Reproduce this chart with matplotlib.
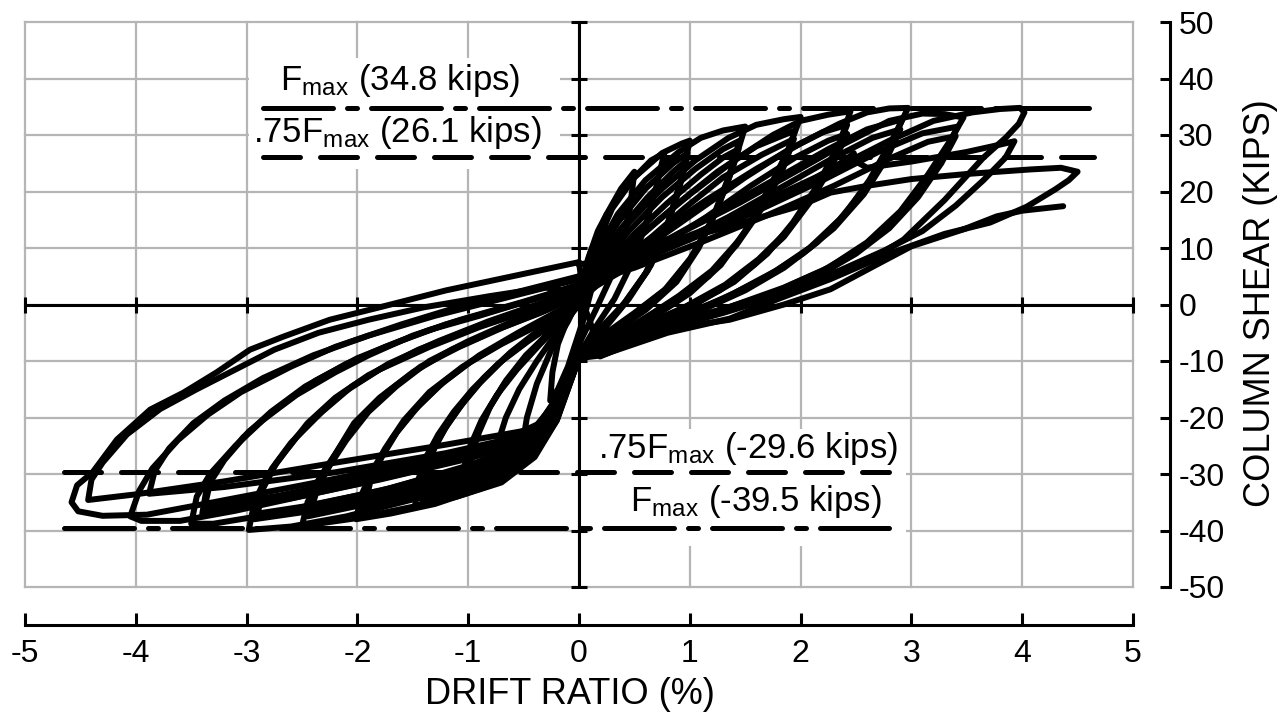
import matplotlib.pyplot as plt
from matplotlib.patches import Rectangle
from matplotlib.ticker import FixedLocator

plt.rcParams['font.family'] = ['Liberation Sans', 'DejaVu Sans']
plt.rcParams['mathtext.fontset'] = 'custom'
plt.rcParams['mathtext.rm'] = 'Liberation Sans'
plt.rcParams['mathtext.it'] = 'Liberation Sans:italic'
plt.rcParams['axes.unicode_minus'] = False

# Hysteresis loops: (drift %, shear kips), one list per cycle
loop_025 = [(0, 1), (0.08, 8), (0.17, 13), (0.25, 16), (0.21, 10), (0.13, 4), (0.05, -2), (0, -5),
            (-0.1, -11), (-0.19, -15), (-0.26, -17), (-0.24, -12), (-0.19, -7), (-0.11, -3), (0, 1)]
loop_050 = [(0, 1), (0.1, 9), (0.25, 16), (0.38, 20.5), (0.5, 23.5), (0.46, 17), (0.38, 10.5), (0.28, 4.5),
            (0.15, -1), (0, -7), (-0.15, -15), (-0.3, -20.5), (-0.52, -26), (-0.47, -20), (-0.38, -14),
            (-0.25, -8), (-0.1, -3), (0, 1)]
loop_075 = [(0, 0), (0.12, 9.5), (0.3, 17.5), (0.5, 22.5), (0.65, 25.5), (0.77, 26.8), (0.7, 21), (0.6, 14),
            (0.47, 7), (0.32, 1), (0.15, -4), (0, -9), (-0.2, -18.5), (-0.4, -24), (-0.6, -28), (-0.78, -30),
            (-0.74, -25), (-0.66, -20), (-0.54, -15), (-0.38, -10), (-0.2, -5), (0, 0)]
loop_100a = [(0, 0), (0.12, 9), (0.3, 17), (0.5, 22.5), (0.75, 26.8), (0.93, 28.5), (1.0, 29), (0.92, 22),
             (0.8, 14), (0.65, 7), (0.45, 1), (0.22, -4.5), (0, -9.5), (-0.2, -20.5), (-0.4, -26.5), (-0.7, -31),
             (-1.07, -33.3), (-1.04, -29), (-0.98, -25), (-0.88, -20.5), (-0.74, -16), (-0.56, -11.5),
             (-0.35, -7), (-0.15, -3), (0, 0)]
loop_100b = [(0, 0), (0.15, 8), (0.35, 14.5), (0.6, 20.5), (0.85, 25), (0.98, 26.8), (0.9, 20.5), (0.78, 13),
             (0.62, 6), (0.42, 0.5), (0.2, -4.5), (0, -9.5), (-0.2, -20), (-0.45, -26.5), (-0.75, -30),
             (-1.02, -31.8), (-0.99, -27.5), (-0.93, -23.5), (-0.83, -19), (-0.69, -14.5), (-0.51, -10),
             (-0.3, -5.5), (-0.12, -2), (0, 0)]
loop_100c = [(0, 0), (0.17, 7.5), (0.38, 13.5), (0.62, 19), (0.85, 23.5), (0.97, 25.5), (0.89, 19.5),
             (0.76, 12), (0.6, 5.5), (0.4, 0), (0.18, -4.5), (0, -9), (-0.2, -19.5), (-0.45, -25.5),
             (-0.75, -29), (-1.0, -30.8), (-0.97, -26.5), (-0.9, -22.5), (-0.8, -18), (-0.66, -13.5),
             (-0.48, -9), (-0.27, -5), (-0.1, -1.5), (0, 0)]
loop_150a = [(0, 0), (0.15, 9), (0.35, 16), (0.6, 22), (0.9, 27), (1.1, 29.5), (1.3, 30.8), (1.5, 31.5),
             (1.4, 25), (1.25, 17), (1.08, 10), (0.88, 4), (0.6, -1), (0.3, -5), (0, -9.5), (-0.2, -20.5),
             (-0.4, -27), (-0.7, -31.5), (-1.1, -34), (-1.48, -35.8), (-1.45, -31), (-1.38, -27), (-1.27, -23),
             (-1.13, -19), (-0.96, -15), (-0.73, -10.5), (-0.46, -6.5), (-0.2, -3), (0, 0)]
loop_150b = [(0, 0), (0.2, 7), (0.45, 13), (0.75, 19), (1.05, 24), (1.3, 27.5), (1.45, 29), (1.35, 22.5),
             (1.2, 15), (1.02, 8.5), (0.8, 3), (0.5, -1.5), (0.25, -5), (0, -9.5), (-0.2, -20), (-0.45, -27),
             (-0.8, -31), (-1.42, -34.5), (-1.39, -30), (-1.32, -26), (-1.21, -22), (-1.07, -18), (-0.9, -14),
             (-0.67, -9.5), (-0.4, -5.5), (-0.17, -2.5), (0, 0)]
loop_150c = [(0, 0), (0.22, 6.5), (0.5, 12.5), (0.8, 18), (1.1, 23), (1.3, 26), (1.44, 27.5), (1.34, 21.5),
             (1.18, 14), (1.0, 8), (0.77, 2.5), (0.48, -2), (0.22, -5.5), (0, -9.5), (-0.2, -19.5),
             (-0.45, -26.5), (-0.85, -30.5), (-1.4, -33.5), (-1.37, -29), (-1.3, -25), (-1.18, -21),
             (-1.03, -17), (-0.86, -13), (-0.62, -8.5), (-0.36, -4.5), (-0.14, -1.5), (0, 0)]
loop_200a = [(0, 0.5), (0.2, 8), (0.45, 14.5), (0.75, 20.5), (1.05, 25.5), (1.35, 29.5), (1.6, 31.8),
             (1.85, 32.8), (2.0, 33.2), (1.88, 27), (1.7, 20), (1.5, 13), (1.28, 7), (1.0, 2), (0.65, -2.5),
             (0.3, -6), (0, -9.5), (-0.2, -20), (-0.4, -26.5), (-0.8, -32), (-1.3, -35.3), (-1.7, -37),
             (-2.01, -38), (-1.97, -34), (-1.88, -30), (-1.75, -25.5), (-1.58, -20.5), (-1.35, -15.5),
             (-1.05, -11), (-0.7, -7), (-0.35, -3.5), (0, 0.5)]
loop_200b = [(0, 0.5), (0.25, 6), (0.55, 12), (0.9, 18), (1.25, 23.5), (1.6, 28), (1.95, 30.8), (1.85, 25),
             (1.67, 18), (1.45, 11.5), (1.2, 6), (0.9, 1.5), (0.55, -3), (0.25, -6.5), (0, -9.5), (-0.2, -19.5),
             (-0.45, -26.5), (-0.9, -31), (-1.4, -34), (-1.95, -36.3), (-1.91, -32), (-1.82, -28),
             (-1.68, -23.5), (-1.5, -19), (-1.27, -14.5), (-0.97, -10), (-0.62, -6), (-0.28, -2.5), (0, 0.5)]
loop_200c = [(0, 0.5), (0.28, 5.5), (0.6, 11), (0.95, 17), (1.3, 22.5), (1.65, 26.5), (1.94, 29.3),
             (1.83, 23.5), (1.65, 17), (1.42, 10.5), (1.17, 5), (0.85, 0.5), (0.5, -3.5), (0.22, -7), (0, -9.5),
             (-0.2, -19), (-0.45, -26), (-0.95, -30.5), (-1.45, -33.3), (-1.93, -35.5), (-1.88, -31),
             (-1.78, -27), (-1.64, -22.5), (-1.45, -18), (-1.21, -13.5), (-0.9, -9), (-0.55, -5), (-0.22, -1.5),
             (0, 0.5)]
loop_250a = [(0, 1.5), (0.25, 7), (0.6, 13), (1.0, 19.5), (1.4, 25.5), (1.75, 30), (2.0, 32.5), (2.25, 33.6),
             (2.45, 34.2), (2.35, 28.5), (2.15, 21), (1.93, 14.5), (1.7, 9), (1.4, 4), (1.0, -0.5), (0.6, -4),
             (0.25, -7), (0, -9.5), (-0.2, -19.5), (-0.45, -27), (-0.9, -32), (-1.5, -35.8), (-2.0, -37.8),
             (-2.5, -39.2), (-2.45, -35), (-2.35, -31), (-2.2, -26.5), (-2.03, -21), (-1.8, -16.5), (-1.5, -12),
             (-1.15, -8), (-0.75, -4.5), (-0.35, -1.5), (0, 1.5)]
loop_250b = [(0, 1.5), (0.3, 6), (0.7, 11.5), (1.1, 17), (1.5, 22.5), (1.9, 27.5), (2.2, 30.5), (2.42, 31.8),
             (2.3, 26), (2.1, 19), (1.88, 13), (1.62, 8), (1.32, 3.5), (0.95, -0.5), (0.55, -4), (0.25, -7),
             (0, -9.5), (-0.2, -19), (-0.45, -26), (-1.0, -30.5), (-1.6, -34), (-2.45, -37.5), (-2.4, -33.5),
             (-2.3, -29.5), (-2.15, -25), (-1.97, -20), (-1.73, -15.5), (-1.43, -11), (-1.08, -7.5), (-0.68, -4),
             (-0.3, -1), (0, 1.5)]
loop_250c = [(0, 1.5), (0.35, 5.5), (0.75, 10.5), (1.15, 15.5), (1.55, 21), (1.95, 26), (2.25, 29),
             (2.42, 30.2), (2.28, 24.5), (2.08, 18), (1.85, 12), (1.58, 7), (1.27, 2.5), (0.9, -1), (0.5, -4.5),
             (0.2, -7.5), (0, -9.5), (-0.2, -18.5), (-0.45, -25.5), (-1.05, -30), (-1.7, -33.5), (-2.42, -36.5),
             (-2.36, -32.5), (-2.25, -28.5), (-2.1, -24), (-1.9, -19), (-1.65, -14.5), (-1.35, -10), (-1.0, -6.5),
             (-0.6, -3), (-0.25, 0), (0, 1.5)]
loop_300a = [(0, 2.5), (0.3, 7), (0.7, 12.5), (1.15, 18.5), (1.6, 24), (2.0, 28.5), (2.35, 32), (2.6, 34),
             (2.8, 34.7), (2.97, 34.8), (2.85, 30), (2.62, 22), (2.4, 16), (2.15, 11), (1.85, 6.5), (1.5, 2.5),
             (1.05, -1.5), (0.6, -5), (0.25, -7.5), (0, -9.5), (-0.2, -19), (-0.45, -26), (-0.9, -30.5),
             (-1.5, -34.5), (-2.1, -37.5), (-2.6, -39.3), (-2.98, -39.9), (-2.93, -35), (-2.82, -30.5),
             (-2.65, -26), (-2.45, -21), (-2.2, -16.5), (-1.9, -12.5), (-1.45, -8), (-1.0, -4.5), (-0.6, -2),
             (-0.25, 0.5), (0, 2.5)]
loop_300b = [(0, 2.5), (0.35, 6.5), (0.8, 11.5), (1.3, 17), (1.8, 22.5), (2.25, 27.5), (2.6, 31), (2.92, 32.8),
             (2.8, 27.5), (2.6, 21), (2.35, 15), (2.08, 10), (1.78, 6), (1.4, 2), (0.95, -2), (0.5, -5.5),
             (0, -9.5), (-0.2, -18.5), (-0.45, -25), (-1.0, -29.5), (-1.7, -33.5), (-2.4, -36.5), (-2.93, -38),
             (-2.88, -33.5), (-2.77, -29), (-2.6, -24.5), (-2.38, -20), (-2.12, -15.5), (-1.8, -11.5),
             (-1.35, -7.5), (-0.9, -4), (-0.45, -1), (0, 2.5)]
loop_300c = [(0, 2.5), (0.4, 6), (0.85, 10.5), (1.35, 15.5), (1.85, 21), (2.3, 26), (2.65, 29.5), (2.9, 31),
             (2.78, 26), (2.57, 19.5), (2.3, 13.5), (2.02, 9), (1.7, 5), (1.3, 1), (0.85, -2.5), (0.4, -6),
             (0, -9.5), (-0.2, -18), (-0.45, -24.5), (-1.05, -29), (-1.8, -33), (-2.5, -35.8), (-2.9, -37),
             (-2.85, -32.5), (-2.73, -28), (-2.55, -23.5), (-2.32, -19), (-2.05, -14.5), (-1.72, -10.5),
             (-1.27, -6.5), (-0.82, -3), (-0.38, 0), (0, 2.5)]
loop_350a = [(0, 3.5), (0.4, 7.5), (0.9, 12.5), (1.45, 18), (1.95, 23.5), (2.4, 28.5), (2.8, 32.5), (3.1, 33.8),
             (3.3, 33.7), (3.47, 33.1), (3.35, 29), (3.15, 23), (2.9, 16.5), (2.6, 11), (2.25, 6.5), (1.85, 3),
             (1.35, -0.5), (0.85, -3.5), (0.4, -6.5), (0, -9.5), (-0.2, -18), (-0.45, -24.5), (-1.0, -28.5),
             (-1.7, -32.5), (-2.4, -35.5), (-2.9, -37.5), (-3.3, -38.8), (-3.5, -38.8), (-3.45, -34),
             (-3.33, -30), (-3.1, -25), (-2.85, -20.4), (-2.55, -16), (-2.2, -12), (-1.9, -9), (-1.5, -5.5),
             (-1.07, -2.7), (-0.5, 0.5), (0, 3.5)]
loop_350b = [(0, 3.5), (0.45, 7), (1.0, 11.5), (1.6, 16.5), (2.2, 22), (2.7, 27), (3.1, 30.3), (3.42, 31.5),
             (3.3, 27), (3.1, 21), (2.85, 15), (2.55, 10), (2.2, 6), (1.8, 2.5), (1.3, -1), (0.8, -4), (0.35, -7),
             (0, -9.5), (-0.2, -17.5), (-0.45, -24), (-1.0, -27.3), (-1.8, -31), (-2.6, -34.3), (-3.4, -37),
             (-3.36, -32.5), (-3.25, -28.5), (-3.03, -23.5), (-2.78, -19), (-2.47, -14.5), (-2.1, -10.5),
             (-1.75, -7.5), (-1.35, -4.5), (-0.9, -2), (-0.4, 1), (0, 3.5)]
loop_350c = [(0, 3.5), (0.5, 6.5), (1.1, 11), (1.7, 15.8), (2.3, 21), (2.8, 25.8), (3.15, 28.8), (3.4, 29.8),
             (3.27, 25), (3.06, 19), (2.8, 13.5), (2.5, 9), (2.15, 5), (1.75, 1.5), (1.25, -1.5), (0.75, -4.5),
             (0.3, -7.5), (0, -9.5), (-0.2, -17), (-0.45, -23.5), (-1.1, -27), (-1.9, -30.5), (-2.7, -33.8),
             (-3.38, -36), (-3.33, -31.5), (-3.2, -27.5), (-2.98, -22.5), (-2.7, -18), (-2.38, -13.5),
             (-2.0, -9.5), (-1.62, -6.5), (-1.2, -3.5), (-0.75, -1), (-0.3, 1.5), (0, 3.5)]
loop_400a = [(0, 5), (0.5, 8.5), (1.1, 13), (1.7, 18.5), (2.3, 24), (2.8, 29), (3.2, 32.5), (3.55, 34),
             (3.8, 34.6), (3.98, 34.8), (4.02, 34), (3.97, 32), (3.85, 29.5), (3.65, 26), (3.3, 18.5),
             (2.93, 11.5), (2.6, 7.5), (2.25, 4.5), (1.8, 1.5), (1.3, -1.5), (0.75, -4.5), (0.3, -7.5), (0, -9.5),
             (-0.15, -16), (-0.35, -22), (-0.8, -26), (-1.6, -30), (-2.4, -33.5), (-3.1, -36.5), (-3.6, -38.3),
             (-3.95, -38.3), (-4.05, -37.5), (-3.97, -33), (-3.85, -29), (-3.62, -24), (-3.35, -19.5),
             (-3.05, -15.5), (-2.6, -11), (-2.2, -7.5), (-1.6, -3.5), (-1.1, -0.5), (-0.5, 2.5), (0, 5)]
loop_400b = [(0, 5), (0.6, 9), (1.2, 13.5), (1.7, 18), (2.1, 22), (2.4, 25.5), (2.48, 26.8), (2.5, 25.3),
             (2.6, 24.2), (3.0, 25.3), (3.5, 27), (3.8, 28.3), (3.93, 28.9), (3.85, 26), (3.65, 22), (3.4, 17.5),
             (3.1, 13), (2.75, 9.5), (2.35, 6), (1.9, 3), (1.35, -0.5), (0.8, -3.5), (0.35, -6.5), (0, -9),
             (-0.2, -17), (-0.45, -23), (-1.2, -26.3), (-2.2, -29.7), (-3.2, -32.3), (-3.88, -33.5),
             (-3.83, -29.5), (-3.7, -25.5), (-3.48, -21), (-3.2, -17), (-2.85, -13), (-2.4, -9), (-1.9, -5.5),
             (-1.3, -2), (-0.7, 1), (0, 4.5)]
loop_450a = [(0, 7), (0.6, 10), (1.3, 13.5), (2.0, 17.5), (2.27, 19.8), (2.6, 21), (3.0, 22.2), (3.5, 23.1),
             (4.07, 23.9), (4.35, 24.2), (4.5, 23.5), (4.42, 22), (4.3, 20.4), (4.04, 17.3), (3.71, 14.5),
             (3.3, 12.5), (2.8, 9), (2.27, 4.5), (1.8, 1), (1.36, -2.5), (0.8, -5), (0.2, -9), (0, -9.5),
             (-0.15, -15), (-0.35, -21), (-0.8, -25), (-1.6, -28.5), (-2.5, -32), (-3.3, -35), (-3.9, -37.2),
             (-4.3, -37.4), (-4.52, -36.6), (-4.58, -35), (-4.53, -32), (-4.39, -29.7), (-4.17, -23.9),
             (-3.87, -18.6), (-3.57, -15.6), (-3.27, -12), (-2.97, -8), (-2.67, -5.7), (-2.25, -2.7),
             (-1.8, -0.5), (-1.2, 2.5), (-0.6, 5), (0, 7.5)]
loop_450b = [(0, 7.5), (0.05, 0), (0, -9), (-0.15, -15), (-0.39, -22), (-1.2, -24.8), (-2.2, -28),
             (-3.2, -31.3), (-4.0, -33.6), (-4.43, -34.6), (-4.4, -31), (-4.3, -28), (-4.08, -23), (-3.78, -18.5),
             (-3.45, -15), (-3.1, -11.5), (-2.75, -8), (-2.35, -5), (-1.9, -2.7), (-1.4, -0.5), (-0.8, 1.5),
             (-0.3, 3), (0, 2), (0.1, -3), (0.19, -9.2), (0.78, -4.4), (1.36, -2.7), (1.85, 0), (2.27, 2.7),
             (2.72, 7.4), (3.0, 10.3), (3.47, 13.3), (3.77, 15.6), (4.0, 16.6), (4.37, 17.4)]

loops = [loop_025, loop_050, loop_075, loop_100a, loop_100b, loop_100c, loop_150a, loop_150b, loop_150c,
         loop_200a, loop_200b, loop_200c, loop_250a, loop_250b, loop_250c, loop_300a, loop_300b, loop_300c,
         loop_350a, loop_350b, loop_350c, loop_400a, loop_400b, loop_450a, loop_450b]

# Reference strength levels
ref_levels = [34.8, 26.1, -29.6, -39.5]
ref_spans = [(-2.85, 4.65), (-2.85, 4.65), (-4.65, 2.8), (-4.65, 2.8)]
ref_dashes = [(14, 2.8, 2, 2.8), (7.4, 4), (7.4, 4), (14, 2.8, 2, 2.8)]
ref_labels = [r'F$_{\mathrm{max}}$ (34.8 kips)', r'.75F$_{\mathrm{max}}$ (26.1 kips)',
              r'.75F$_{\mathrm{max}}$ (-29.6 kips)', r'F$_{\mathrm{max}}$ (-39.5 kips)']
label_pos = [(-2.70, 38.0), (-2.94, 28.7), (0.17, -27.1), (0.46, -36.6)]

x_ticks = list(range(-5, 6))
y_ticks = list(range(-50, 51, 10))

fig = plt.figure(figsize=(12.82, 7.13), dpi=100)
ax = fig.add_axes([25 / 1282, 126 / 713, 1108 / 1282, 565 / 713])
ax.set_xlim(-5, 5)
ax.set_ylim(-50, 50)

ax.spines['left'].set_visible(False)
ax.spines['top'].set_visible(False)
ax.spines['bottom'].set_position(('outward', 27.4))
ax.spines['right'].set_position(('outward', 26.6))
for s in ['bottom', 'right']:
    ax.spines[s].set_linewidth(2.2)

ax.yaxis.tick_right()
ax.xaxis.set_ticks_position('bottom')
ax.set_xticks(x_ticks)
ax.set_yticks(y_ticks)
ax.xaxis.set_minor_locator(FixedLocator([0]))
ax.yaxis.set_minor_locator(FixedLocator([0]))
ax.tick_params(axis='x', which='major', direction='in', length=8.6, width=2.2, pad=10, labelsize=23)
ax.tick_params(axis='x', which='minor', direction='in', length=16, width=2.2)
ax.tick_params(axis='y', which='major', direction='in', length=7.2, width=2.2, pad=6, labelsize=23)
ax.tick_params(axis='y', which='minor', direction='in', length=14.4, width=2.2)

ax.grid(True, which='major', color='#b5b5b5', lw=1.6, zorder=0)
ax.set_axisbelow(True)
for gl in ax.get_xgridlines() + ax.get_ygridlines():
    gl.set_clip_on(False)

fig.text(570 / 1282, 1 - 694 / 713, 'DRIFT RATIO (%)', fontsize=26, ha='center', va='center')
fig.text(1261 / 1282, 1 - 303 / 713, 'COLUMN SHEAR (KIPS)', fontsize=26, rotation=90,
         ha='center', va='center')

# white backgrounds behind the label blocks
ax.add_patch(Rectangle((-2.98, 23.9), 2.81, 19.8, facecolor='white', edgecolor='none', zorder=1))
ax.add_patch(Rectangle((0.1, -42.8), 2.85, 20.7, facecolor='white', edgecolor='none', zorder=1))

# bold zero axes with their own ticks
ax.axhline(0, color='black', lw=2.2, zorder=3)
ax.axvline(0, color='black', lw=2.2, zorder=3)
ax.plot(x_ticks, [0] * len(x_ticks), ls='none', marker='|', ms=11, mew=2.2, color='black',
        clip_on=False, zorder=3)
ax.plot([0] * len(y_ticks), y_ticks, ls='none', marker='_', ms=12, mew=2.2, color='black',
        clip_on=False, zorder=3)

for lvl, (x0, x1), dsh in zip(ref_levels, ref_spans, ref_dashes):
    ln, = ax.plot([x0, x1], [lvl, lvl], color='black', lw=3.6, zorder=4,
                  dash_capstyle='round')
    ln.set_dashes(dsh)

for txt, (tx, ty) in zip(ref_labels, label_pos):
    ax.text(tx, ty, txt, fontsize=25, ha='left', va='baseline', zorder=6)

for loop in loops:
    xs = [p[0] for p in loop]
    ys = [p[1] for p in loop]
    ax.plot(xs, ys, color='black', lw=4.3, solid_joinstyle='round', solid_capstyle='round', zorder=5)

fig.savefig('out.png', dpi=100)
